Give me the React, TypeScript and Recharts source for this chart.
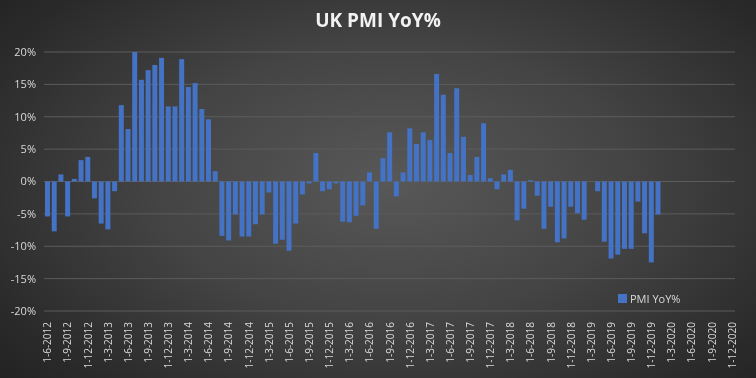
import { BarChart, Bar, XAxis, YAxis, CartesianGrid } from 'recharts';

const START_YEAR = 2012;
const START_MONTH = 6;
const MONTH_COUNT = 103; // 1-6-2012 .. 1-12-2020

const yoy2012 = [-5.4, -7.7, 1.1, -5.4, 0.4, 3.3, 3.8];
const yoy2013 = [-2.6, -6.5, -7.4, -1.5, 11.8, 8.1, 20.0, 15.7, 17.2, 18.0, 19.1, 11.6];
const yoy2014 = [11.6, 18.9, 14.6, 15.2, 11.2, 9.6, 1.6, -8.4, -9.1, -5.1, -8.5, -8.5];
const yoy2015 = [-6.6, -5.1, -1.7, -9.6, -9.0, -10.7, -6.5, -2.0, -0.3, 4.4, -1.5, -1.2];
const yoy2016 = [-0.3, -6.2, -6.3, -5.3, -3.7, 1.4, -7.3, 3.6, 7.6, -2.3, 1.4, 8.2];
const yoy2017 = [5.8, 7.6, 6.4, 16.6, 13.4, 4.4, 14.4, 6.9, 1.0, 3.8, 9.0, 0.5];
const yoy2018 = [-1.2, 1.1, 1.8, -6.0, -4.2, 0.2, -2.2, -7.3, -3.9, -9.4, -8.8, -3.9];
const yoy2019 = [-4.9, -5.9, 0, -1.5, -9.3, -11.9, -11.3, -10.4, -10.4, -3.1, -8.0, -12.5];
const yoy2020 = [-5.1];

const yTicks = [-20, -15, -10, -5, 0, 5, 10, 15, 20];

const values: number[] = [
  ...yoy2012, ...yoy2013, ...yoy2014, ...yoy2015,
  ...yoy2016, ...yoy2017, ...yoy2018, ...yoy2019, ...yoy2020,
];

const categories: string[] = [];
for (let i = 0; i < MONTH_COUNT; i++) {
  const m = START_MONTH - 1 + i;
  categories.push(`1-${(m % 12) + 1}-${START_YEAR + Math.floor(m / 12)}`);
}

const chartData = categories.map((name, i) => ({
  name,
  pmi: i < values.length ? values[i] : null,
}));

const FONT = '"Open Sans", "Liberation Sans", sans-serif';
const BAR = '#4472c4';

function DateTick({ x, y, payload }: any) {
  return (
    <text
      x={x}
      y={y}
      transform={`rotate(-90, ${x}, ${y})`}
      textAnchor="end"
      dy={4}
      fontSize={10}
      fill="#d9d9d9"
      fontFamily={FONT}
    >
      {payload.value}
    </text>
  );
}

export default function App() {
  return (
    <div
      style={{
        position: 'fixed', left: 0, top: 0, width: 756, height: 378,
        background: 'radial-gradient(ellipse 70% 80% at 52% 48%, #585858 0%, #444 45%, #2a2a2a 85%, #222 100%)',
        fontFamily: FONT,
      }}
    >
      <div
        style={{
          position: 'absolute', top: 7, left: 0, width: 756, textAlign: 'center',
          color: '#f2f2f2', fontWeight: 700, fontSize: 19,
        }}
      >
        UK PMI YoY%
      </div>
      <div
        style={{
          position: 'absolute', left: 618, top: 291, fontSize: 11, color: '#d9d9d9',
          display: 'flex', alignItems: 'center',
        }}
      >
        <span style={{ display: 'inline-block', width: 9, height: 9, background: BAR, marginRight: 3 }} />
        PMI YoY%
      </div>
      <BarChart
        width={756}
        height={378}
        data={chartData}
        margin={{ top: 52, right: 21, bottom: 0, left: 0 }}
        barSize={5}
        style={{ position: 'absolute', left: 0, top: 0 }}
      >
        <CartesianGrid stroke="#5c5c5c" vertical={false} />
        <XAxis
          dataKey="name"
          interval={2}
          tick={<DateTick />}
          tickLine={false}
          axisLine={false}
          height={67}
          tickMargin={5}
        />
        <YAxis
          domain={[-20, 20]}
          ticks={yTicks}
          tickFormatter={(v) => `${v}%`}
          tick={{ fontSize: 11, fill: '#d9d9d9', fontFamily: FONT }}
          tickLine={false}
          axisLine={false}
          tickSize={0}
          tickMargin={8}
          width={44}
        />
        <Bar dataKey="pmi" fill={BAR} isAnimationActive={false} />
      </BarChart>
    </div>
  );
}
